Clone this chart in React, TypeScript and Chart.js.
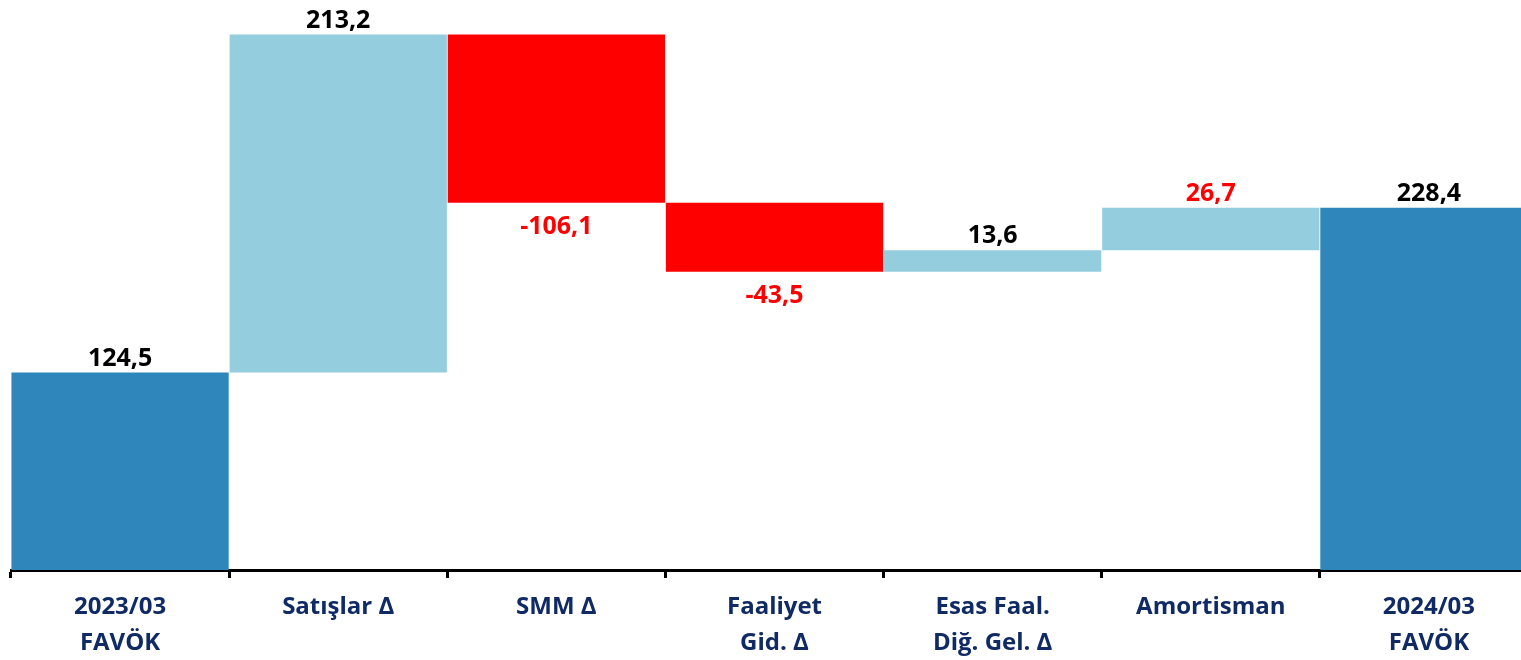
import React, { useEffect, useRef } from "react";
import { Chart, registerables } from "chart.js";

Chart.register(...registerables);

// Waterfall: FAVÖK bridge from 2023/03 to 2024/03
const categories: (string | string[])[] = [
  ["2023/03", "FAVÖK"],
  "Satışlar Δ",
  "SMM Δ",
  ["Faaliyet", "Gid. Δ"],
  ["Esas Faal.", "Diğ. Gel. Δ"],
  "Amortisman",
  ["2024/03", "FAVÖK"],
];
const values: number[] = [124.5, 213.2, -106.1, -43.5, 13.6, 26.7, 228.4];
const isTotal: boolean[] = [true, false, false, false, false, false, true];
const barColors: string[] = ["#2E86BA", "#94CDDE", "#FF0000", "#FF0000", "#94CDDE", "#94CDDE", "#2E86BA"];
const labelColors: string[] = ["#000000", "#000000", "#FF0000", "#FF0000", "#000000", "#FF0000", "#000000"];

const FONT = "'Open Sans', 'Noto Sans', sans-serif";
const AXIS_COLOR = "#0F2A64";

function buildRanges(): [number, number][] {
  const out: [number, number][] = [];
  let running = 0;
  values.forEach((v, i) => {
    if (isTotal[i]) {
      out.push([0, v]);
      running = v;
    } else {
      out.push([running, running + v]);
      running += v;
    }
  });
  return out;
}

const fmt = (v: number) => v.toFixed(1).replace(".", ",");

const valueLabels = {
  id: "valueLabels",
  afterDatasetsDraw(chart: any) {
    const ctx = chart.ctx;
    const meta = chart.getDatasetMeta(0);
    ctx.save();
    ctx.font = `bold 25px ${FONT}`;
    ctx.textAlign = "center";
    ctx.textBaseline = "alphabetic";
    meta.data.forEach((el: any, i: number) => {
      const top = Math.min(el.y, el.base);
      const bottom = Math.max(el.y, el.base);
      ctx.fillStyle = labelColors[i];
      if (values[i] >= 0) {
        ctx.fillText(fmt(values[i]), el.x, top - 7);
      } else {
        ctx.fillText(fmt(values[i]), el.x, bottom + 31);
      }
    });
    ctx.restore();
  },
};

export default function App() {
  const ref = useRef<HTMLCanvasElement | null>(null);

  useEffect(() => {
    if (!ref.current) return;
    const chart = new Chart(ref.current, {
      type: "bar",
      data: {
        labels: categories,
        datasets: [
          {
            data: buildRanges() as any,
            backgroundColor: barColors,
            borderWidth: 0,
            barPercentage: 0.996,
            categoryPercentage: 1,
          },
        ],
      },
      options: {
        responsive: false,
        animation: false,
        layout: { padding: { top: 15, left: 11, right: 7, bottom: 8 } },
        plugins: {
          legend: { display: false },
          tooltip: { enabled: false },
        },
        scales: {
          x: {
            z: 1,
            grid: {
              display: true,
              drawOnChartArea: false,
              drawTicks: true,
              tickLength: 8,
              color: "#000000",
              lineWidth: 3,
            },
            border: { display: true, color: "#000000", width: 3 },
            ticks: {
              color: AXIS_COLOR,
              padding: 11,
              maxRotation: 0,
              autoSkip: false,
              font: { family: FONT, size: 24, weight: "bold", lineHeight: 1.5 },
            },
          },
          y: {
            display: false,
            min: 0,
            max: 350,
          },
        },
      },
      plugins: [valueLabels],
    });
    return () => chart.destroy();
  }, []);

  return (
    <div
      style={{
        position: "fixed",
        left: 0,
        top: 0,
        width: 1521,
        height: 660,
        overflow: "hidden",
        background: "#ffffff",
      }}
    >
      <canvas ref={ref} width={1545} height={680} />
    </div>
  );
}
